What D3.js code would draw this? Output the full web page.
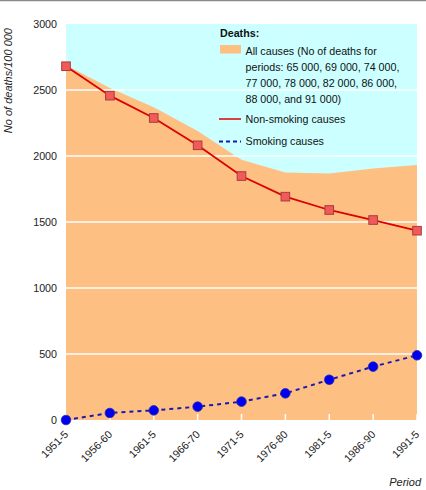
<!DOCTYPE html>
<html><head><meta charset="utf-8">
<script src="https://cdn.jsdelivr.net/npm/d3@7"></script>
<style>
html,body{margin:0;padding:0;background:#fff;}
svg{display:block;font-family:"Liberation Sans",Arial,sans-serif;}
</style></head>
<body>
<svg id="chart" width="426" height="490"></svg>
<script>
const periods = ["1951-5","1956-60","1961-5","1966-70","1971-5","1976-80","1981-5","1986-90","1991-5"];
const allCauses = [2690, 2515, 2370, 2190, 1972, 1875, 1868, 1905, 1932];
const nonSmoking = [2680, 2457, 2288, 2081, 1848, 1692, 1591, 1515, 1434];
const smoking = [0, 53, 73, 101, 139, 202, 305, 404, 490];
const yTicks = [0, 500, 1000, 1500, 2000, 2500, 3000];
const legendTitle = "Deaths:";
const legendAllLines = ["All causes (No of deaths for", "periods: 65 000, 69 000, 74 000,", "77 000, 78 000, 82 000, 86 000,", "88 000, and 91 000)"];
const legendNon = "Non-smoking causes";
const legendSmk = "Smoking causes";
const yTitle = "No of deaths/100 000";
const xTitle = "Period";

const svg = d3.select("#chart");
const L = 66, R = 417, T = 24, B = 420;
const x = d3.scalePoint().domain(periods).range([L, R]);
const y = d3.scaleLinear().domain([0, 3000]).range([B, T]);

// top rule
svg.append("line").attr("x1",0).attr("x2",426).attr("y1",0.5).attr("y2",0.5)
  .attr("stroke","#8a8a8a").attr("stroke-width",1.5);

// background
svg.append("rect").attr("x",L).attr("y",T).attr("width",R-L).attr("height",B-T).attr("fill","#CCFFFF");

// all causes area
const area = d3.area().x((d,i)=>x(periods[i])).y0(y(0)).y1(d=>y(d));
svg.append("path").datum(allCauses).attr("d",area).attr("fill","#FDC082");

// gridlines
svg.append("g").selectAll("line").data(yTicks.filter(v=>v>0 && v<3000)).join("line")
  .attr("x1",L).attr("x2",R).attr("y1",d=>y(d)).attr("y2",d=>y(d))
  .attr("stroke","#fff").attr("stroke-width",1.3);

// x ticks (white, inside)
svg.append("g").selectAll("line").data(periods).join("line")
  .attr("x1",d=>x(d)).attr("x2",d=>x(d)).attr("y1",B).attr("y2",B-6)
  .attr("stroke","#fff").attr("stroke-width",1.5);

// y tick labels
svg.append("g").selectAll("text").data(yTicks).join("text")
  .attr("x",57).attr("y",d=>y(d)).attr("dy","0.36em").attr("text-anchor","end")
  .attr("font-size","10.7px").attr("fill","#222").text(d=>d);

// x tick labels
svg.append("g").selectAll("text").data(periods).join("text")
  .attr("transform",d=>`translate(${x(d)+3},${435}) rotate(-45)`)
  .attr("text-anchor","end").attr("font-size","10.7px").attr("fill","#222").text(d=>d);

// axis titles
svg.append("text").attr("transform","translate(12,28) rotate(-90)").attr("text-anchor","end")
  .attr("font-size","11px").attr("font-style","italic").attr("fill","#222").text(yTitle);
svg.append("text").attr("x",421).attr("y",486).attr("text-anchor","end")
  .attr("font-size","11px").attr("font-style","italic").attr("fill","#222").text(xTitle);

// non-smoking line
const line = d3.line().x((d,i)=>x(periods[i])).y(d=>y(d));
svg.append("path").datum(nonSmoking).attr("d",line).attr("fill","none")
  .attr("stroke","#DD0000").attr("stroke-width",1.8);
svg.append("g").selectAll("rect").data(nonSmoking).join("rect")
  .attr("x",(d,i)=>x(periods[i])-4.3).attr("y",d=>y(d)-4.3).attr("width",8.6).attr("height",8.6)
  .attr("fill","#F25A5A").attr("stroke","#A83C3C").attr("stroke-width",1);

// smoking line
svg.append("path").datum(smoking).attr("d",line).attr("fill","none")
  .attr("stroke","#1A1AB0").attr("stroke-width",2).attr("stroke-dasharray","4,4");
svg.append("g").selectAll("circle").data(smoking).join("circle")
  .attr("cx",(d,i)=>x(periods[i])).attr("cy",d=>y(d)).attr("r",4.8)
  .attr("fill","#0000F0").attr("stroke","#2828A8").attr("stroke-width",0.8);

// legend
const lg = svg.append("g").attr("font-size","10.7px").attr("fill","#111");
lg.append("text").attr("x",220).attr("y",37).attr("font-weight","bold").text(legendTitle);
lg.append("rect").attr("x",220).attr("y",45).attr("width",21).attr("height",8.5).attr("fill","#FDC082");
lg.selectAll("text.all").data(legendAllLines).join("text").attr("class","all")
  .attr("x",245.5).attr("y",(d,i)=>54.5+i*16).text(d=>d);
lg.append("line").attr("x1",219).attr("x2",241).attr("y1",119).attr("y2",119)
  .attr("stroke","#DD0000").attr("stroke-width",1.5);
lg.append("text").attr("x",245.5).attr("y",123).text(legendNon);
lg.append("line").attr("x1",219).attr("x2",241).attr("y1",141.5).attr("y2",141.5)
  .attr("stroke","#1A1AB0").attr("stroke-width",2).attr("stroke-dasharray","4,3");
lg.append("text").attr("x",245.5).attr("y",145).text(legendSmk);
</script>
</body></html>
